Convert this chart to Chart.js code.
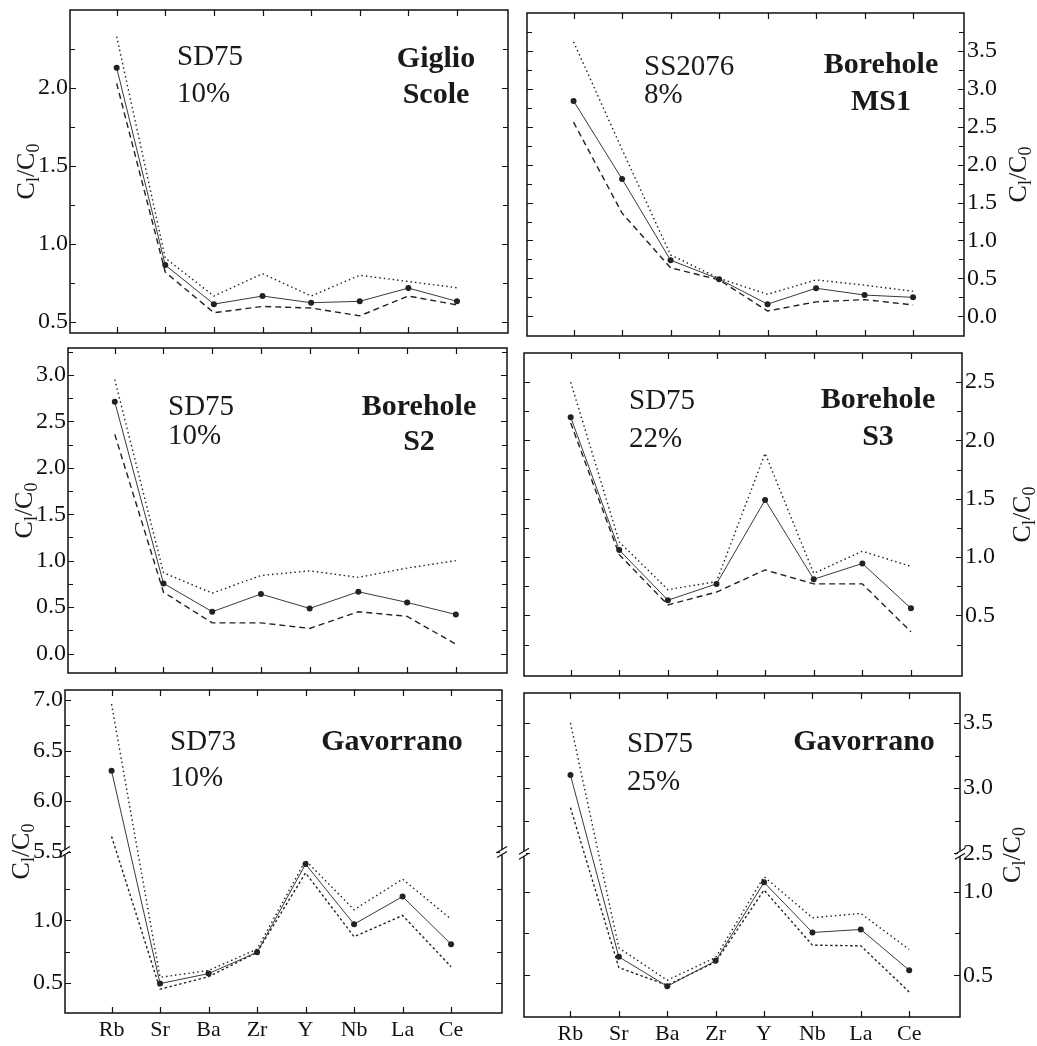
<!DOCTYPE html>
<html>
<head>
<meta charset="utf-8">
<script src="https://cdn.jsdelivr.net/npm/chart.js@4.4.1/dist/chart.umd.min.js"></script>
<style>
  html, body { margin: 0; padding: 0; background: #fff; }
  #wrap { position: relative; width: 1037px; height: 1046px; }
  canvas { position: absolute; }
</style>
</head>
<body>
<div id="wrap">
  <canvas id="p1" width="517" height="340" style="left:0;top:0"></canvas>
  <canvas id="p2" width="520" height="340" style="left:517px;top:0"></canvas>
  <canvas id="p3" width="517" height="340" style="left:0;top:340px"></canvas>
  <canvas id="p4" width="520" height="340" style="left:517px;top:340px"></canvas>
  <canvas id="p5" width="517" height="366" style="left:0;top:680px"></canvas>
  <canvas id="p6" width="520" height="366" style="left:517px;top:680px"></canvas>
</div>
<script>
const elements = ['Rb', 'Sr', 'Ba', 'Zr', 'Y', 'Nb', 'La', 'Ce'];

// Giglio Scole - SD75 10%
const giglioMid = [2.13, 0.865, 0.615, 0.667, 0.624, 0.633, 0.718, 0.633];
const giglioHigh = [2.33, 0.91, 0.667, 0.81, 0.667, 0.80, 0.76, 0.72];
const giglioLow = [2.03, 0.82, 0.56, 0.60, 0.59, 0.54, 0.667, 0.61];
const giglioTicks = [0.5, 1.0, 1.5, 2.0];

// Borehole MS1 - SS2076 8%
const ms1Mid = [2.84, 1.81, 0.74, 0.49, 0.16, 0.37, 0.28, 0.25];
const ms1High = [3.62, 2.2, 0.81, 0.50, 0.29, 0.48, 0.41, 0.33];
const ms1Low = [2.56, 1.36, 0.64, 0.48, 0.07, 0.19, 0.22, 0.15];
const ms1Ticks = [0.0, 0.5, 1.0, 1.5, 2.0, 2.5, 3.0, 3.5];

// Borehole S2 - SD75 10%
const s2Mid = [2.71, 0.755, 0.45, 0.64, 0.485, 0.665, 0.55, 0.42];
const s2High = [2.95, 0.87, 0.65, 0.84, 0.89, 0.82, 0.92, 1.0];
const s2Low = [2.36, 0.66, 0.33, 0.33, 0.27, 0.45, 0.40, 0.10];
const s2Ticks = [0.0, 0.5, 1.0, 1.5, 2.0, 2.5, 3.0];

// Borehole S3 - SD75 22%
const s3Mid = [2.20, 1.06, 0.63, 0.77, 1.49, 0.81, 0.945, 0.56];
const s3High = [2.50, 1.13, 0.72, 0.79, 1.89, 0.86, 1.05, 0.92];
const s3Low = [2.15, 1.02, 0.59, 0.70, 0.89, 0.77, 0.77, 0.36];
const s3Ticks = [0.5, 1.0, 1.5, 2.0, 2.5];

// Gavorrano - SD73 10% (broken axis)
const gav73Mid = [6.30, 0.495, 0.575, 0.745, 1.45, 0.97, 1.19, 0.81];
const gav73High = [6.96, 0.545, 0.60, 0.77, 1.48, 1.085, 1.33, 1.01];
const gav73Low = [5.65, 0.45, 0.55, 0.745, 1.38, 0.87, 1.04, 0.63];
const gav73Ticks = [0.5, 1.0, 5.5, 6.0, 6.5, 7.0];

// Gavorrano - SD75 25% (broken axis)
const gav75Mid = [3.10, 0.61, 0.434, 0.586, 1.056, 0.756, 0.774, 0.53];
const gav75High = [3.50, 0.664, 0.47, 0.606, 1.09, 0.844, 0.87, 0.654];
const gav75Low = [2.85, 0.546, 0.44, 0.58, 1.01, 0.68, 0.676, 0.40];
const gav75Ticks = [0.5, 1.0, 2.5, 3.0, 3.5];

const FONT = '"Liberation Serif", "Times New Roman", serif';

const panels = [
  { id: 'p1', side: 'left', mid: giglioMid, high: giglioHigh, low: giglioLow, major: giglioTicks,
    yMin: 0.43, yMax: 2.5, yw: 70, xh: 0, pad: { left: 0, right: 9, top: 10, bottom: 7 },
    tx: 26, sample: ['SD75', '10%'], sx: 107, sy: [55, 92], site: ['Giglio', 'Scole'], cx: -72, cy: [57, 93] },
  { id: 'p2', side: 'right', mid: ms1Mid, high: ms1High, low: ms1Low, major: ms1Ticks,
    yMin: -0.26, yMax: 4.0, yw: 73, xh: 0, pad: { left: 10, right: 0, top: 13, bottom: 2 },
    tx: 501, sample: ['SS2076', '8%'], sx: 117, sy: [62, 90], site: ['Borehole', 'MS1'], cx: -83, cy: [60, 97] },
  { id: 'p3', side: 'left', mid: s2Mid, high: s2High, low: s2Low, major: s2Ticks,
    yMin: -0.21, yMax: 3.29, yw: 68, xh: 0, pad: { left: 0, right: 10, top: 8, bottom: 7 },
    tx: 24, sample: ['SD75', '10%'], sx: 100, sy: [67, 96], site: ['Borehole', 'S2'], cx: -88, cy: [67, 102] },
  { id: 'p4', side: 'right', mid: s3Mid, high: s3High, low: s3Low, major: s3Ticks,
    yMin: -0.02, yMax: 2.75, yw: 75, xh: 0, pad: { left: 7, right: 0, top: 13, bottom: 2 },
    tx: 505, sample: ['SD75', '22%'], sx: 105, sy: [56, 94], site: ['Borehole', 'S3'], cx: -84, cy: [55, 92] },
  { id: 'p5', side: 'left', mid: gav73Mid, high: gav73High, low: gav73Low, major: gav73Ticks,
    yMin: 0.26, yMax: 7.1, brk: { top: 1.55, base: 5.5, k: 0.807 }, yw: 65, xh: 30,
    pad: { left: 0, right: 15, top: 10, bottom: 3 },
    tx: 21, sample: ['SD73', '10%'], sx: 105, sy: [60, 96], site: ['Gavorrano'], cx: -110, cy: [60] },
  { id: 'p6', side: 'right', mid: gav75Mid, high: gav75High, low: gav75Low, major: gav75Ticks,
    yMin: 0.25, yMax: 3.73, brk: { top: 1.23, base: 2.5, k: 0.78 }, yw: 77, xh: 29,
    pad: { left: 7, right: 0, top: 13, bottom: 0 },
    tx: 495, sample: ['SD75', '25%'], sx: 103, sy: [59, 97], site: ['Gavorrano'], cx: -96, cy: [57] },
];

// broken axis: values above the break are compressed onto the axis
function toDisplay(v, brk) {
  if (!brk || v < brk.base) return v;
  return brk.top + (v - brk.base) * brk.k;
}

function buildYTicks(p) {
  const lo = toDisplay(p.yMin, p.brk), hi = toDisplay(p.yMax, p.brk);
  const out = [];
  for (let q = Math.ceil(p.yMin * 4); q <= Math.floor(p.yMax * 4); q++) {
    const v = q / 4;
    if (p.brk && v > p.brk.top - 0.1 && v < p.brk.base) continue;
    const d = toDisplay(v, p.brk);
    if (d - lo < 0.025 || hi - d < 0.025) continue;
    const big = p.major.some(m => Math.abs(m - v) < 1e-6);
    out.push({ d, big, text: big ? v.toFixed(1) : '' });
  }
  return out;
}

function drawRatio(ctx, x, y) {
  ctx.save();
  ctx.translate(x, y);
  ctx.rotate(-Math.PI / 2);
  const big = '26px ' + FONT, small = '18px ' + FONT;
  const parts = [['C', big, 0], ['l', small, 5], ['/C', big, 0], ['0', small, 5]];
  let w = 0;
  parts.forEach(([t, f]) => { ctx.font = f; w += ctx.measureText(t).width; });
  let cx = -w / 2;
  ctx.fillStyle = '#1a1a1a';
  ctx.textBaseline = 'alphabetic';
  parts.forEach(([t, f, dy]) => {
    ctx.font = f;
    ctx.fillText(t, cx, 8 + dy);
    cx += ctx.measureText(t).width;
  });
  ctx.restore();
}

const decorPlugin = {
  id: 'decor',
  afterDraw(chart) {
    const p = panels.find(q => q.id === chart.canvas.id);
    const { ctx, chartArea: a } = chart;
    const ys = chart.scales.y, xs = chart.scales.x;
    ctx.save();
    ctx.strokeStyle = '#111';
    ctx.lineWidth = 1.5;
    ctx.strokeRect(a.left, a.top, a.right - a.left, a.bottom - a.top);

    // inward ticks on all four sides
    ctx.lineWidth = 1.2;
    ctx.beginPath();
    ys.ticks.forEach(t => {
      const y = Math.round(ys.getPixelForValue(t.value)) + 0.5;
      const len = t.big ? 6 : 5;
      ctx.moveTo(a.left, y); ctx.lineTo(a.left + len, y);
      ctx.moveTo(a.right, y); ctx.lineTo(a.right - len, y);
    });
    xs.ticks.forEach(t => {
      const x = Math.round(xs.getPixelForValue(t.value)) + 0.5;
      ctx.moveTo(x, a.top); ctx.lineTo(x, a.top + 6);
      ctx.moveTo(x, a.bottom); ctx.lineTo(x, a.bottom - 6);
    });
    ctx.stroke();

    if (p.brk) {
      const y = ys.getPixelForValue(p.brk.top);
      [a.left, a.right].forEach(x => {
        ctx.fillStyle = '#fff';
        ctx.fillRect(x - 2, y - 2, 4, 5);
        ctx.beginPath();
        ctx.moveTo(x - 5, y + 1); ctx.lineTo(x + 5, y - 5);
        ctx.moveTo(x - 5, y + 6); ctx.lineTo(x + 5, y);
        ctx.stroke();
      });
    }

    ctx.fillStyle = '#1a1a1a';
    ctx.textBaseline = 'alphabetic';
    ctx.font = '29px ' + FONT;
    ctx.textAlign = 'left';
    p.sample.forEach((s, i) => ctx.fillText(s, a.left + p.sx, a.top + p.sy[i]));
    ctx.font = 'bold 30px ' + FONT;
    ctx.textAlign = 'center';
    p.site.forEach((s, i) => ctx.fillText(s, a.right + p.cx, a.top + p.cy[i]));
    ctx.restore();

    drawRatio(ctx, p.tx, (a.top + a.bottom) / 2);
  }
};

function toPoints(values, brk) {
  return values.map((v, i) => ({ x: i, y: toDisplay(v, brk) }));
}

panels.forEach(p => {
  const yt = buildYTicks(p);
  new Chart(document.getElementById(p.id), {
    type: 'line',
    data: {
      datasets: [
        {
          data: toPoints(p.mid, p.brk),
          borderColor: '#3a3a3a',
          borderWidth: 1,
          pointRadius: 3,
          pointBackgroundColor: '#222',
          pointBorderWidth: 0,
        },
        {
          data: toPoints(p.high, p.brk),
          borderColor: '#222',
          borderWidth: 1.4,
          borderDash: [1.5, 3],
          pointRadius: 0,
        },
        {
          data: toPoints(p.low, p.brk),
          borderColor: '#222',
          borderWidth: 1.4,
          borderDash: p.brk ? [2.5, 2.5] : [6, 4],
          pointRadius: 0,
        },
      ],
    },
    options: {
      responsive: false,
      animation: false,
      events: [],
      layout: { padding: p.pad },
      plugins: { legend: { display: false }, tooltip: { enabled: false } },
      scales: {
        x: {
          type: 'linear',
          min: -0.96,
          max: 8.05,
          grid: { display: false, drawTicks: false },
          border: { display: false },
          afterBuildTicks: s => { s.ticks = elements.map((_, i) => ({ value: i })); },
          afterFit: s => { s.height = p.xh; s.paddingLeft = 0; s.paddingRight = 0; },
          ticks: {
            display: p.xh > 0,
            autoSkip: false,
            maxRotation: 0,
            padding: 4,
            color: '#111',
            font: { family: FONT, size: 22 },
            callback: v => elements[v] ?? '',
          },
        },
        y: {
          type: 'linear',
          position: p.side,
          min: toDisplay(p.yMin, p.brk),
          max: toDisplay(p.yMax, p.brk),
          grid: { display: false, drawTicks: false },
          border: { display: false },
          afterBuildTicks: s => { s.ticks = yt.map(t => ({ value: t.d, big: t.big })); },
          afterFit: s => { s.width = p.yw; s.paddingTop = 0; s.paddingBottom = 0; },
          ticks: {
            autoSkip: false,
            padding: p.side === 'left' ? 2 : 3,
            color: '#111',
            font: { family: FONT, size: 24 },
            callback: (v, i) => (yt[i] ? yt[i].text : ''),
          },
        },
      },
    },
    plugins: [decorPlugin],
  });
});
</script>
</body>
</html>
